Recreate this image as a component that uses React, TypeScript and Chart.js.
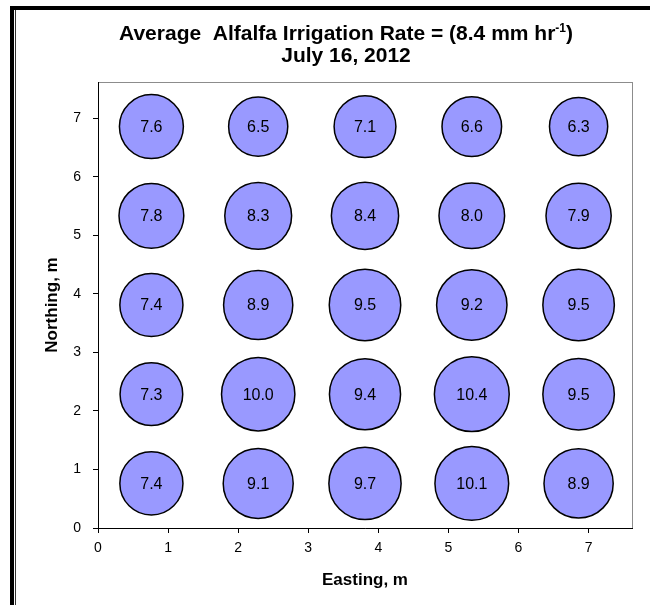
import React, { useEffect, useRef } from "react";
import { Chart, registerables } from "chart.js";

Chart.register(...registerables);

const eastings = [0.762, 2.286, 3.81, 5.334, 6.858];
const northings = [6.858, 5.334, 3.81, 2.286, 0.762];
const row7 = [7.6, 6.5, 7.1, 6.6, 6.3];
const row5 = [7.8, 8.3, 8.4, 8.0, 7.9];
const row4 = [7.4, 8.9, 9.5, 9.2, 9.5];
const row2 = [7.3, 10.0, 9.4, 10.4, 9.5];
const row1 = [7.4, 9.1, 9.7, 10.1, 8.9];
const rateRows = [row7, row5, row4, row2, row1];
const axisMax = 7.62;
const titleLine1 = "Average  Alfalfa Irrigation Rate = (8.4 mm hr";
const titleSup = "-1";
const titleEnd = ")";
const titleLine2 = "July 16, 2012";
const xTitle = "Easting, m";
const yTitle = "Northing, m";

const FONT = "'Liberation Sans', Arial, sans-serif";

const points: { x: number; y: number; v: number }[] = [];
rateRows.forEach((row, ri) => {
  row.forEach((v, ci) => {
    points.push({ x: eastings[ci], y: northings[ri], v });
  });
});

const framePlugin = {
  id: "plotFrame",
  beforeDraw(chart: any) {
    const { ctx, chartArea } = chart;
    ctx.save();
    ctx.strokeStyle = "#8c8c8c";
    ctx.lineWidth = 1;
    const l = Math.round(chartArea.left) + 0.5;
    const t = Math.round(chartArea.top) + 0.5;
    const r = Math.round(chartArea.right) + 0.5;
    const b = Math.round(chartArea.bottom) + 0.5;
    ctx.strokeRect(l, t, r - l, b - t);
    ctx.restore();
  },
};

const labelPlugin = {
  id: "bubbleLabels",
  afterDatasetsDraw(chart: any) {
    const { ctx } = chart;
    const meta = chart.getDatasetMeta(0);
    ctx.save();
    ctx.font = `16px ${FONT}`;
    ctx.fillStyle = "#000";
    ctx.textAlign = "center";
    ctx.textBaseline = "middle";
    meta.data.forEach((el: any, i: number) => {
      const d = chart.data.datasets[0].data[i] as any;
      ctx.fillText(d.v.toFixed(1), el.x, el.y + 1);
    });
    ctx.restore();
  },
};

const titlePlugin = {
  id: "customTitle",
  afterDraw(chart: any) {
    const { ctx } = chart;
    const cx = 330;
    ctx.save();
    ctx.fillStyle = "#000";
    ctx.textBaseline = "alphabetic";
    ctx.textAlign = "left";
    const mainFont = `bold 21px ${FONT}`;
    const supFont = `bold 12px ${FONT}`;
    ctx.font = mainFont;
    const w1 = ctx.measureText(titleLine1).width;
    const w3 = ctx.measureText(titleEnd).width;
    ctx.font = supFont;
    const w2 = ctx.measureText(titleSup).width;
    const total = w1 + w2 + w3;
    let x = cx - total / 2;
    const base1 = 30;
    ctx.font = mainFont;
    ctx.fillText(titleLine1, x, base1);
    x += w1;
    ctx.font = supFont;
    ctx.fillText(titleSup, x, base1 - 8);
    x += w2;
    ctx.font = mainFont;
    ctx.fillText(titleEnd, x, base1);
    ctx.textAlign = "center";
    ctx.fillText(titleLine2, cx, 52);
    ctx.restore();
  },
};

export default function App() {
  const canvasRef = useRef<HTMLCanvasElement | null>(null);

  useEffect(() => {
    if (!canvasRef.current) return;
    const chart = new Chart(canvasRef.current, {
      type: "bubble",
      data: {
        datasets: [
          {
            label: "Irrigation rate",
            data: points as any,
            backgroundColor: "#9999ff",
            borderColor: "#000",
            borderWidth: 1.5,
            radius: (ctx: any) => {
              const d = ctx.raw as any;
              return d ? 11.6 * Math.sqrt(d.v) : 0;
            },
          } as any,
        ],
      },
      options: {
        animation: false,
        responsive: true,
        maintainAspectRatio: false,
        events: [],
        layout: { autoPadding: false, padding: { top: 72, right: 18, left: 0, bottom: 0 } },
        plugins: {
          legend: { display: false },
          tooltip: { enabled: false },
          title: { display: false },
        },
        scales: {
          x: {
            type: "linear",
            min: 0,
            max: axisMax,
            afterFit: (scale: any) => {
              scale.height = 77;
            },
            grid: {
              drawOnChartArea: false,
              drawTicks: true,
              tickLength: 5,
              color: "#000",
            },
            border: { display: true, color: "#000", width: 1 },
            ticks: {
              stepSize: 1,
              includeBounds: false,
              color: "#000",
              padding: 7,
              maxRotation: 0,
              font: { family: FONT, size: 14 },
            },
            title: {
              display: true,
              text: xTitle,
              color: "#000",
              font: { family: FONT, size: 17, weight: "bold" },
              padding: { top: 0, bottom: 14 },
            },
          },
          y: {
            type: "linear",
            min: 0,
            max: axisMax,
            afterFit: (scale: any) => {
              scale.width = 82;
            },
            grid: {
              drawOnChartArea: false,
              drawTicks: true,
              tickLength: 5,
              color: "#000",
            },
            border: { display: true, color: "#000", width: 1 },
            ticks: {
              stepSize: 1,
              includeBounds: false,
              color: "#000",
              padding: 12,
              font: { family: FONT, size: 14 },
            },
            title: {
              display: true,
              text: yTitle,
              color: "#000",
              font: { family: FONT, size: 17, weight: "bold" },
              padding: { top: 26, bottom: 0 },
            },
          },
        },
      },
      plugins: [framePlugin, labelPlugin, titlePlugin],
    });
    return () => chart.destroy();
  }, []);

  return (
    <div
      style={{
        position: "fixed",
        left: 0,
        top: 0,
        width: 650,
        height: 605,
        background: "#fff",
        overflow: "hidden",
      }}
    >
      <div style={{ position: "absolute", left: 10, top: 6, width: 4, height: 599, background: "#000" }} />
      <div style={{ position: "absolute", left: 10, top: 6, width: 640, height: 4, background: "#000" }} />
      <div style={{ position: "absolute", left: 15, top: 10, width: 1, height: 595, background: "#333" }} />
      <div style={{ position: "absolute", left: 16, top: 10, width: 634, height: 595 }}>
        <canvas ref={canvasRef} />
      </div>
    </div>
  );
}
